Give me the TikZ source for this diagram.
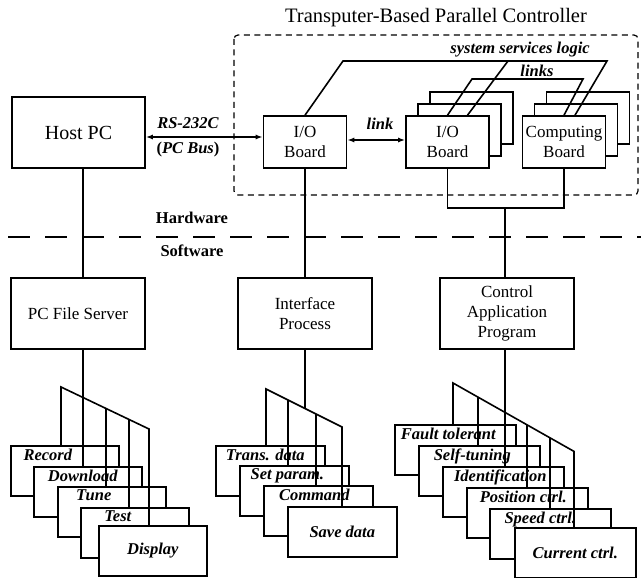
\documentclass[tikz,border=0pt]{standalone}
\usepackage{fontspec}
\setmainfont{Liberation Serif}
\usetikzlibrary{arrows.meta}

\begin{document}
\begin{tikzpicture}[
    x=1pt, y=-1pt,
    >={Latex[length=7pt,width=5pt]},
    wire/.style={line width=1.6pt},
    box/.style={rectangle, draw, line width=1.6pt, fill=white, align=center, inner sep=0pt, font=\fontsize{17}{20}\selectfont},
    board/.style={box, minimum width=83pt, minimum height=52pt},
    unit/.style={box, minimum width=134pt, minimum height=71pt},
    tab/.style={box, anchor=north west, minimum height=50pt, font=\fontsize{16.5}{19}\selectfont\bfseries\itshape},
    tabpc/.style={tab, minimum width=108pt},
    tabif/.style={tab, minimum width=109pt},
    tabctl/.style={tab, minimum width=121pt},
    tag/.style={anchor=north, yshift=-3.5pt, inner sep=0pt, font=\fontsize{16.5}{19}\selectfont\bfseries\itshape},
    note/.style={inner sep=1pt, font=\fontsize{16.5}{19}\selectfont\bfseries\itshape},
    layer/.style={inner sep=1pt, font=\fontsize{16.5}{19}\selectfont\bfseries}
]
\useasboundingbox (0,0) rectangle (641,578);

% Controller frame
\node[font=\fontsize{20.5}{24}\selectfont] (title) at (436,18) {Transputer-Based Parallel Controller};
\draw[line width=1.2pt, dash pattern=on 6pt off 4.5pt, rounded corners=4pt] (234,35) rectangle (638,195);

% Hardware
\node[unit, minimum width=133pt, font=\fontsize{20}{24}\selectfont] (host) at (78.5,132.5) {Host PC};
\node[board] (io1) at (305,142) {I/O\\Board};
\node[board] (io2c) at (471.5,118) {};
\node[board] (io2b) at (459.5,130) {};
\node[board] (io2) at (447.5,142) {I/O\\Board};
\node[board] (cbc) at (588,118) {};
\node[board] (cbb) at (576,130) {};
\node[board] (cb) at (564,142) {Computing\\Board};

% Buses
\draw[wire, <->] ([yshift=-4.5pt]host.east) -- ([yshift=-4.5pt]host.east -| io1.west);
\node[note] (rs) at (188,123) {RS-232C};
\node[note] (pcbus) at (188,150) {{\upshape(}PC Bus{\upshape)}};
\draw[wire, <->] ([yshift=2pt]io1.east) -- ([yshift=2pt]io2.west);
\node[note] (lnk) at (380,124) {link};

\coordinate (sysL) at (343,61);
\coordinate (sysM) at (508,61);
\coordinate (sysR) at (607,61);
\draw[wire] (io1.north) -- (sysL) -- (sysR) -- ([xshift=11pt]cb.north);
\draw[wire] (sysM) -- ([xshift=20pt]io2.north);
\node[note] (sys) at (520,50) {system services logic};
\coordinate (lnkL) at (472,79);
\coordinate (lnkR) at (583,79);
\draw[wire] (io2.north) -- (lnkL) -- (lnkR) -- (cb.north);
\node[note] (lnks) at (537,71) {links};

% Hardware / Software
\draw[line width=1.8pt, dash pattern=on 22pt off 15pt] (8,237) -- (641,237);
\node[layer] (hw) at (192,218) {Hardware};
\node[layer] (sw) at (192,251) {Software};

% Software
\node[unit] (pfs) at (78,313.5) {PC File Server};
\node[unit] (ifp) at (305,313.5) {Interface\\Process};
\node[unit] (ctl) at (507,313.5) {Control\\Application\\Program};

\coordinate (hub) at (505,208);
\draw[wire] (io2.south) |- (hub) -| (cb.south);
\draw[wire] (hub) -- (hub |- ctl.north);
\draw[wire] (io1.south) -- (ifp.north);

% PC File Server tasks
\node[tabpc, label={[tag, xshift=-17pt]north:Record}] (rec) at (10,445) {};
\node[tabpc, label={[tag, xshift=-5pt]north:Download}] (dwn) at (33,466) {};
\node[tabpc, label={[tag, xshift=-18pt]north:Tune}] (tun) at (57,486) {};
\node[tabpc, label={[tag, xshift=-17pt]north:Test}] (tst) at (80,507) {};
\node[tabpc] (dsp) at (98,525) {Display};

\coordinate (pc1) at (61,387);
\coordinate (pc2) at (83,397.5);
\coordinate (pc3) at (106,408.5);
\coordinate (pc4) at (129,419.4);
\coordinate (pc5) at (149,429);
\draw[wire] (pc2 |- host.south) -- (pc2 |- pfs.north);
\draw[wire] (pc2 |- pfs.south) -- (pc2 |- dwn.north);
\draw[wire] (pc1 |- rec.north) -- (pc1) -- (pc5) -- (pc5 |- dsp.north);
\draw[wire] (pc3) -- (pc3 |- tun.north);
\draw[wire] (pc4) -- (pc4 |- tst.north);

% Interface Process tasks
\node[tabif, label={[tag, xshift=-5pt]north:Trans. data}] (trd) at (215,445) {};
\node[tabif, label={[tag, xshift=-7pt]north:Set param.}] (spm) at (239,465) {};
\node[tabif, label={[tag, xshift=-4pt]north:Command}] (cmd) at (263,485) {};
\node[tabif] (svd) at (287,506) {Save data};

\coordinate (if1) at (266,389);
\coordinate (if2) at (288,400);
\coordinate (if3) at (316,414);
\coordinate (if4) at (342,427);
\coordinate (ifhub) at (305,408.5);
\draw[wire] (ifp.south) -- (ifhub);
\draw[wire] (if1 |- trd.north) -- (if1) -- (if4) -- (if4 |- svd.north);
\draw[wire] (if2) -- (if2 |- spm.north);
\draw[wire] (if3) -- (if3 |- cmd.north);

% Control Application Program tasks
\node[tabctl, label={[tag, xshift=-7pt]north:Fault tolerant}] (flt) at (394,424) {};
\node[tabctl, label={[tag, xshift=-7pt]north:Self-tuning}] (stn) at (418,445) {};
\node[tabctl, label={[tag, xshift=-3pt]north:Identification}] (idn) at (442,466) {};
\node[tabctl, label={[tag, xshift=-4pt]north:Position ctrl.}] (pos) at (466,487) {};
\node[tabctl, label={[tag, xshift=-10pt]north:Speed ctrl.}] (spd) at (489,508) {};
\node[tabctl] (cur) at (514,527) {Current ctrl.};

\coordinate (ct1) at (453,383);
\coordinate (ct2) at (478,397.1);
\coordinate (ct3) at (505,412.4);
\coordinate (ct4) at (527,424.9);
\coordinate (ct5) at (550,437.9);
\coordinate (ct6) at (574,451.4);
\draw[wire] (ct3 |- ctl.south) -- (ct3 |- idn.north);
\draw[wire] (ct1 |- flt.north) -- (ct1) -- (ct6) -- (ct6 |- cur.north);
\draw[wire] (ct2) -- (ct2 |- stn.north);
\draw[wire] (ct4) -- (ct4 |- pos.north);
\draw[wire] (ct5) -- (ct5 |- spd.north);

\end{tikzpicture}
\end{document}
